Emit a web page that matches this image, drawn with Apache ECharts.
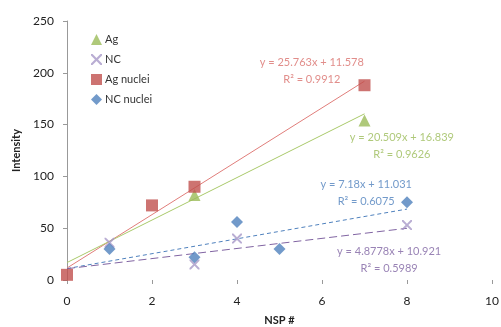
<!DOCTYPE html>
<html>
<head>
<meta charset="utf-8">
<script src="https://cdn.jsdelivr.net/npm/echarts@6/dist/echarts.min.js"></script>
<style>
  html, body { margin: 0; padding: 0; background: #fff; }
  #chart { width: 501px; height: 327px; }
</style>
</head>
<body>
<div id="chart"></div>
<script>
// values
var agData = [[3, 82], [7, 154]];
var ncData = [[1, 36], [3, 15], [4, 40], [8, 53]];
var agNucleiData = [[0, 5], [2, 72], [3, 90], [7, 188]];
var ncNucleiData = [[1, 30], [3, 22], [4, 56], [5, 30], [8, 75]];

// trendlines, from the equations printed on the chart: [slope, intercept, xEnd]
var agFit = [20.509, 16.839, 7];
var ncFit = [4.8778, 10.921, 8];
var agNucleiFit = [25.763, 11.578, 7];
var ncNucleiFit = [7.18, 11.031, 8];

var fitText = {
  agNuclei: "y = 25.763x + 11.578\nR² = 0.9912",
  ag: "y = 20.509x + 16.839\nR² = 0.9626",
  ncNuclei: "y = 7.18x + 11.031\nR² = 0.6075",
  nc: "y = 4.8778x + 10.921\nR² = 0.5989"
};
// where each equation sits (data units)
var fitTextPos = {
  agNuclei: [5.76, 202],
  ag: [7.88, 129],
  ncNuclei: [7.04, 84],
  nc: [7.58, 19]
};

var xTicks = [0, 10, 2];
var yTicks = [0, 250, 50];

var xMark = "path://M0,0L1.4,0L5,3.6L8.6,0L10,0L10,1.4L6.4,5L10,8.6L10,10L8.6,10L5,6.4L1.4,10L0,10L0,8.6L3.6,5L0,1.4Z";

function fitLine(f) {
  return [[0, f[1]], [f[2], f[0] * f[2] + f[1]]];
}

function trend(data, color, type) {
  return {
    type: "line",
    data: fitLine(data),
    symbol: "none",
    silent: true,
    lineStyle: { color: color, width: 1, type: type },
    z: 1
  };
}

function fitLabel(key, color) {
  return {
    type: "scatter",
    data: [fitTextPos[key]],
    symbolSize: 0,
    silent: true,
    label: {
      show: true,
      position: "inside",
      formatter: fitText[key],
      color: color,
      fontSize: 11,
      lineHeight: 17,
      fontFamily: "Lato",
      align: "center"
    }
  };
}

var myChart = echarts.init(document.getElementById("chart"));
var option = {
  animation: false,
  textStyle: { fontFamily: "Lato" },
  grid: { left: 67, right: 9, top: 21, bottom: 47, outerBoundsMode: "none", containLabel: false },
  legend: {
    orient: "vertical",
    left: 86,
    top: 29,
    itemGap: 9,
    itemWidth: 11,
    itemHeight: 11,
    textStyle: { fontSize: 11, color: "#333", fontFamily: "Lato", padding: [0, 0, 0, -2] },
    data: ["Ag", "NC", "Ag nuclei", "NC nuclei"]
  },
  xAxis: {
    type: "value",
    min: xTicks[0],
    max: xTicks[1],
    interval: xTicks[2],
    name: "NSP #",
    nameLocation: "middle",
    nameGap: 35,
    nameTextStyle: { fontSize: 11, fontWeight: "bold", color: "#222" },
    axisLine: { show: false },
    axisTick: { show: true, length: 4, lineStyle: { color: "#999" } },
    axisLabel: { fontSize: 12, color: "#222", margin: 15 },
    splitLine: { show: false }
  },
  yAxis: {
    type: "value",
    min: yTicks[0],
    max: yTicks[1],
    interval: yTicks[2],
    name: "Intensity",
    nameLocation: "middle",
    nameGap: 43,
    nameTextStyle: { fontSize: 11, fontWeight: "bold", color: "#222" },
    axisLine: { show: true, lineStyle: { color: "#999" } },
    axisTick: { show: true, length: 4, lineStyle: { color: "#999" } },
    axisLabel: { fontSize: 12, color: "#222", margin: 13 },
    splitLine: { show: false }
  },
  series: [
    trend(agNucleiFit, "#e07d7a", "solid"),
    trend(agFit, "#a9c96a", "solid"),
    trend(ncNucleiFit, "#4f81bd", [4, 3]),
    trend(ncFit, "#8064a2", [8, 4]),
    {
      name: "Ag",
      type: "scatter",
      data: agData,
      symbol: "triangle",
      symbolSize: 12,
      itemStyle: { color: "#9bbb59" },
      z: 3
    },
    {
      name: "NC",
      type: "scatter",
      data: ncData,
      symbol: xMark,
      symbolSize: 10,
      itemStyle: { color: "#a898c8" },
      z: 3
    },
    {
      name: "Ag nuclei",
      type: "scatter",
      data: agNucleiData,
      symbol: "rect",
      symbolSize: 12,
      itemStyle: { color: "#c0504d" },
      z: 3
    },
    {
      name: "NC nuclei",
      type: "scatter",
      data: ncNucleiData,
      symbol: "diamond",
      symbolSize: 12,
      itemStyle: { color: "#4f81bd" },
      z: 3
    },
    fitLabel("agNuclei", "#d9706d"),
    fitLabel("ag", "#9bbb59"),
    fitLabel("ncNuclei", "#4f81bd"),
    fitLabel("nc", "#8064a2")
  ]
};
myChart.setOption(option);
window.addEventListener("resize", function () {
  myChart.resize();
});
</script>
</body>
</html>
